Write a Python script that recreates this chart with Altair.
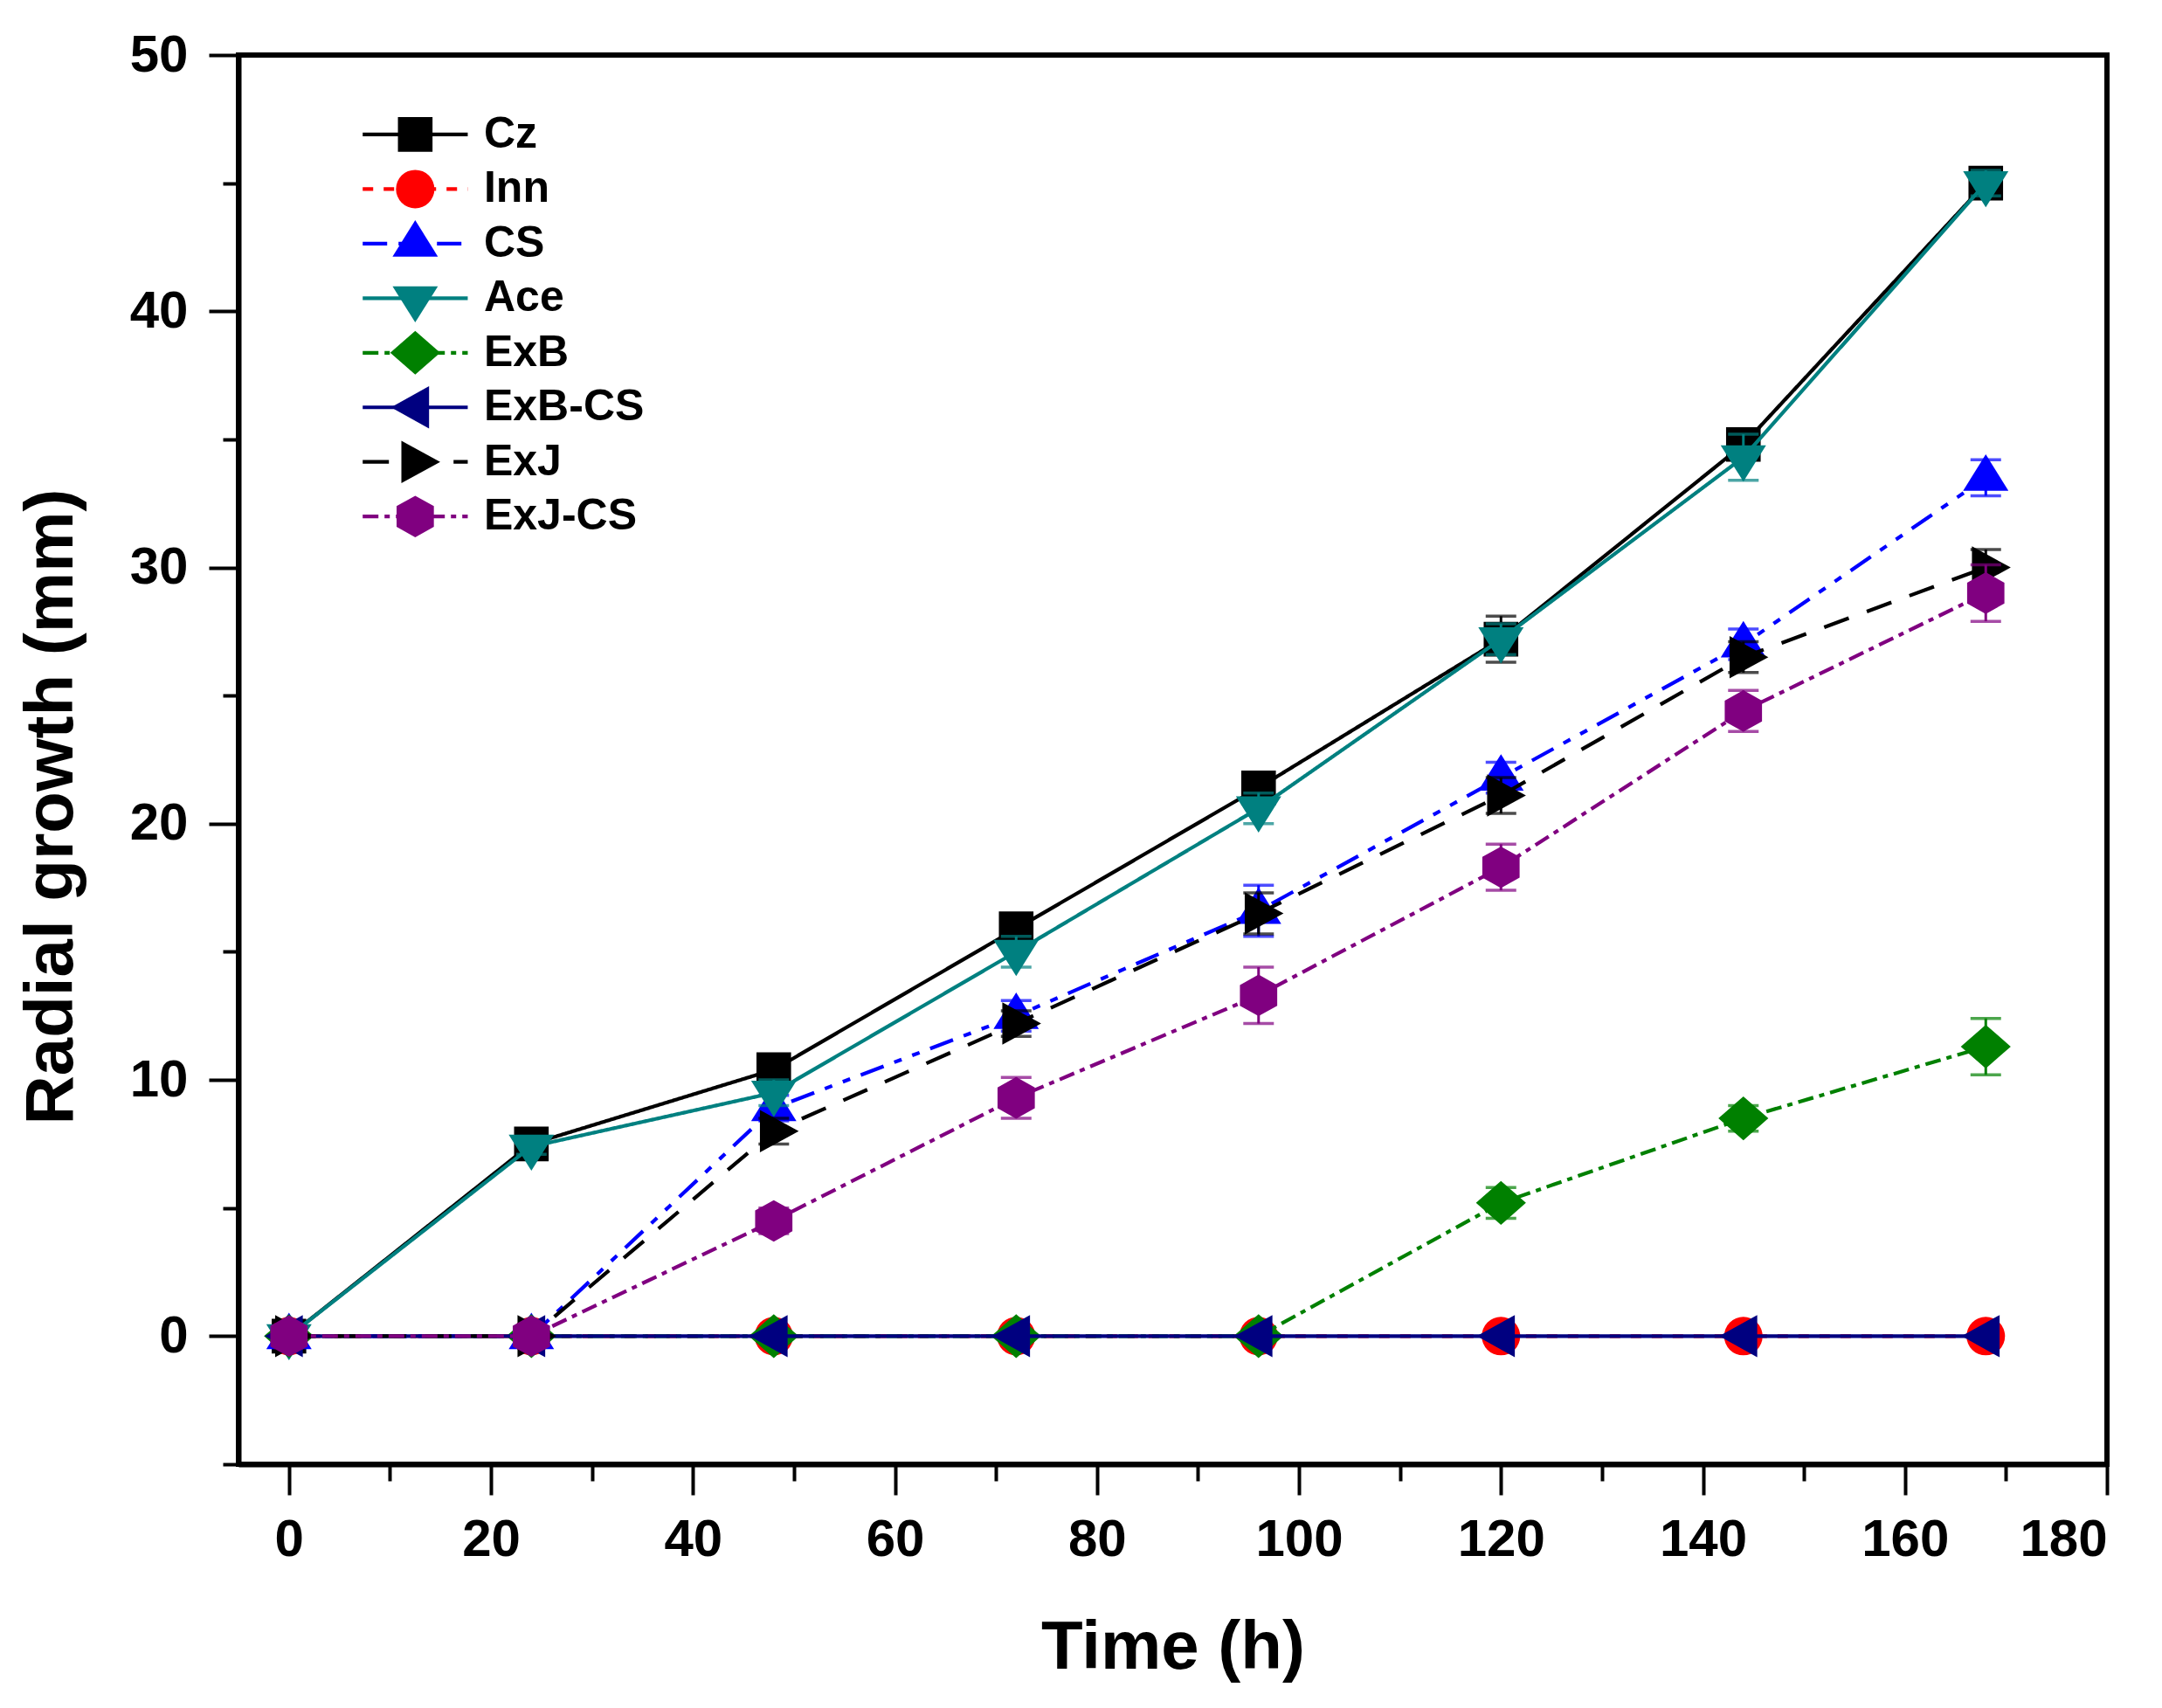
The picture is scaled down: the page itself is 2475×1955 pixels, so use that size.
import altair as alt
import pandas as pd

# ---------------- data ----------------
time_h = [0, 24, 48, 72, 96, 120, 144, 168]
series_names = ["Cz", "Inn", "CS", "Ace", "ExB", "ExB-CS", "ExJ", "ExJ-CS"]

cz = [0, 7.5, 10.4, 15.9, 21.4, 27.2, 34.8, 45.0]
cz_err = [0, 0.3, 0.4, 0.5, 0.5, 0.9, 0.6, 0.5]
inn = [0, 0, 0, 0, 0, 0, 0, 0]
inn_err = [0, 0, 0, 0, 0, 0, 0, 0]
cs = [0, 0, 8.9, 12.5, 16.6, 21.8, 27.0, 33.5]
cs_err = [0, 0, 0.5, 0.6, 1.0, 0.6, 0.6, 0.7]
ace = [0, 7.4, 9.5, 15.0, 20.6, 27.2, 34.3, 45.0]
ace_err = [0, 0.3, 0.5, 0.6, 0.6, 0.6, 0.9, 0.5]
exb = [0, 0, 0, 0, 0, 5.2, 8.5, 11.3]
exb_err = [0, 0, 0, 0, 0, 0.6, 0.5, 1.1]
exbcs = [0, 0, 0, 0, 0, 0, 0, 0]
exbcs_err = [0, 0, 0, 0, 0, 0, 0, 0]
exj = [0, 0, 8.0, 12.2, 16.5, 21.1, 26.5, 30.0]
exj_err = [0, 0, 0.5, 0.5, 0.8, 0.7, 0.6, 0.7]
exjcs = [0, 0, 4.5, 9.3, 13.3, 18.3, 24.4, 29.0]
exjcs_err = [0, 0, 0.5, 0.8, 1.1, 0.9, 0.8, 1.1]

x_major = [0, 20, 40, 60, 80, 100, 120, 140, 160, 180]
x_minor = [10, 30, 50, 70, 90, 110, 130, 150, 170]
y_major = [0, 10, 20, 30, 40, 50]
y_minor = [-5, 5, 15, 25, 35, 45]

values = [cz, inn, cs, ace, exb, exbcs, exj, exjcs]
errors = [cz_err, inn_err, cs_err, ace_err, exb_err, exbcs_err, exj_err, exjcs_err]

# ---------------- styles ----------------
colors = ["#000000", "#FF0000", "#0000FF", "#008080", "#008000", "#000080", "#000000", "#800080"]
dashes = [[1, 0], [12, 12], [28, 13, 9, 13, 9, 13], [1, 0], [18, 7, 6, 7], [1, 0], [30, 22], [18, 7, 6, 7]]
shapes = [
    "M-0.9,-0.9L0.9,-0.9L0.9,0.9L-0.9,0.9Z",
    "circle",
    "M0,-1.22L1.18,0.68L-1.18,0.68Z",
    "M-1.18,-0.62L1.18,-0.62L0,1.26Z",
    "M0,-1.14L1.3,0L0,1.14L-1.3,0Z",
    "M-1.26,0L0.72,-1.1L0.72,1.1Z",
    "M1.3,0L-0.72,-1.1L-0.72,1.1Z",
    "M0,-1.08L0.97,-0.54L0.97,0.54L0,1.08L-0.97,0.54L-0.97,-0.54Z",
]
MSIZE = 1936
LW = 4.2
FONT = "Liberation Sans"

rows = []
for s, vals, errs in zip(series_names, values, errors):
    for t, v, e in zip(time_h, vals, errs):
        rows.append({"series": s, "time": t, "v": v, "err": e, "lo": v - e, "hi": v + e})
df = pd.DataFrame(rows)

xscale = alt.Scale(domain=[-5, 180], nice=False, zero=False)
yscale = alt.Scale(domain=[-5, 50], nice=False, zero=False)

x_axis = alt.Axis(values=x_major, tickSize=35, orient="bottom", title="Time (h)", format="d")
y_axis = alt.Axis(values=y_major, tickSize=34, orient="left", title="Radial growth (mm)",
                  titleY=860, format="d")
x_axis_minor = alt.Axis(values=x_minor, tickSize=19, orient="bottom", labels=False,
                        domain=False, title=None)
y_axis_minor = alt.Axis(values=y_minor, tickSize=18, orient="left", labels=False,
                        domain=False, title=None)

base = alt.Chart(df)
layers = []
for i, s in enumerate(series_names):
    sub = base.transform_filter(alt.datum.series == s)
    if i == 0:
        X = alt.X("time:Q", scale=xscale, axis=x_axis)
        Y = alt.Y("v:Q", scale=yscale, axis=y_axis)
        XE = alt.X("time:Q", scale=xscale, axis=x_axis_minor)
        YE = alt.Y("lo:Q", scale=yscale, axis=y_axis_minor)
    else:
        X = alt.X("time:Q", scale=xscale, axis=None)
        Y = alt.Y("v:Q", scale=yscale, axis=None)
        XE = alt.X("time:Q", scale=xscale, axis=None)
        YE = alt.Y("lo:Q", scale=yscale, axis=None)
    line = sub.mark_line(color=colors[i], strokeWidth=LW, strokeDash=dashes[i]).encode(x=X, y=Y)
    err = sub.transform_filter(alt.datum.err > 0)
    bar = err.mark_rule(color=colors[i], strokeWidth=3).encode(x=XE, y=YE, y2="hi:Q")
    caps = err.transform_fold(["lo", "hi"], as_=["k", "cap"]).mark_tick(
        orient="horizontal", size=35, thickness=3.5, color=colors[i]
    ).encode(
        x=alt.X("time:Q", scale=xscale, axis=None),
        y=alt.Y("cap:Q", scale=yscale, axis=None),
    )
    pts = sub.mark_point(
        shape=shapes[i], filled=True, size=MSIZE, color=colors[i], opacity=1, strokeWidth=0
    ).encode(
        x=alt.X("time:Q", scale=xscale, axis=None),
        y=alt.Y("v:Q", scale=yscale, axis=None),
    )
    layers += [line, bar, caps, pts]

# ---------------- legend (inside plot) ----------------
leg = pd.DataFrame({"series": series_names, "row": list(range(len(series_names)))})
legend_base = alt.Chart(leg).transform_calculate(
    ly="46.9 - 2.13 * datum.row", x1="7.3", x2="17.7", xm="12.5", xt="19.3"
)
cscale = alt.Scale(domain=series_names, range=colors)
dscale = alt.Scale(domain=series_names, range=dashes)
sscale = alt.Scale(domain=series_names, range=shapes)

leg_line = legend_base.mark_rule(strokeWidth=LW).encode(
    x=alt.X("x1:Q", scale=xscale, axis=None),
    x2="x2:Q",
    y=alt.Y("ly:Q", scale=yscale, axis=None),
    color=alt.Color("series:N", scale=cscale, legend=None),
    strokeDash=alt.StrokeDash("series:N", scale=dscale, legend=None),
)
leg_pts = legend_base.mark_point(filled=True, size=MSIZE, opacity=1, strokeWidth=0).encode(
    x=alt.X("xm:Q", scale=xscale, axis=None),
    y=alt.Y("ly:Q", scale=yscale, axis=None),
    color=alt.Color("series:N", scale=cscale, legend=None),
    shape=alt.Shape("series:N", scale=sscale, legend=None),
)
leg_txt = legend_base.mark_text(
    align="left", baseline="middle", fontSize=50, fontWeight="bold", font=FONT, color="black"
).encode(
    x=alt.X("xt:Q", scale=xscale, axis=None),
    y=alt.Y("ly:Q", scale=yscale, axis=None),
    text="series:N",
)
layers += [leg_line, leg_pts, leg_txt]

chart = alt.layer(*layers).resolve_axis(
    x="independent", y="independent"
).properties(
    width=2139,
    height=1613,
    autosize=alt.AutoSizeParams(type="none"),
    padding={"left": 265, "top": 55, "right": 40, "bottom": 250},
    background="white",
).configure_view(
    stroke="black", strokeWidth=6
).configure_axis(
    domainColor="black", domainWidth=6, tickColor="black", tickWidth=4,
    labelFont=FONT, labelFontSize=60, labelFontWeight="bold", labelColor="black",
    labelPadding=22, grid=False,
    titleFont=FONT, titleFontSize=78, titleFontWeight="bold", titleColor="black",
).configure_axisX(titlePadding=55).configure_axisY(titlePadding=50, labelPadding=24)

chart.save("out.html", embed_options={"renderer": "svg", "actions": False})
